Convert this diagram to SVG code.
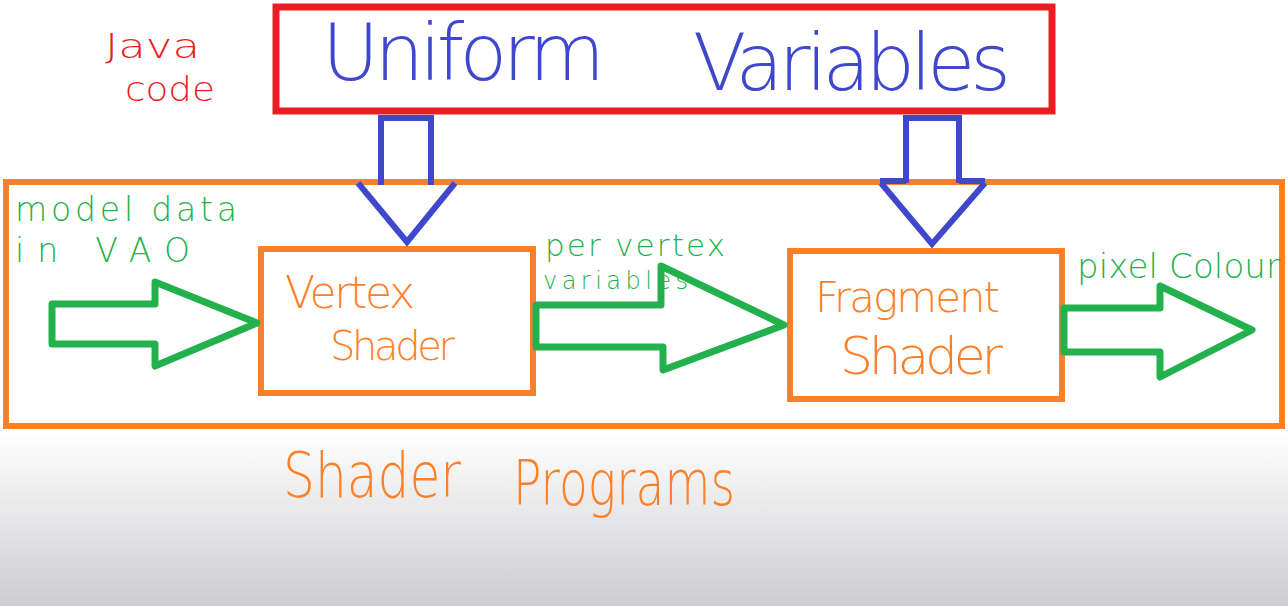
<svg xmlns="http://www.w3.org/2000/svg" width="1288" height="606" viewBox="0 0 1288 606">
<defs>
<linearGradient id="bg" x1="0" y1="0" x2="0" y2="1">
<stop offset="0" stop-color="#ffffff"/>
<stop offset="0.71" stop-color="#ffffff"/>
<stop offset="1" stop-color="#cdcdd1"/>
</linearGradient>
<style>
.box{fill:none;stroke-linejoin:miter}
.red{stroke:#ed1c24;stroke-width:7}
.org{stroke:#ff7f27;stroke-width:6}
.grn{fill:none;stroke:#22b14c;stroke-width:7;stroke-linejoin:round}
.blu{fill:none;stroke:#3f48cc;stroke-width:6;stroke-linejoin:miter}
text{font-family:"DejaVu Sans","Open Sans",sans-serif;font-weight:200}
.tr{fill:#ed1c24}
.tb{fill:#3f48cc}
.to{fill:#ff7f27}
.tg{fill:#22b14c}
</style>
</defs>
<rect x="0" y="0" width="1288" height="606" fill="url(#bg)"/>

<g id="java-label">
<text class="tr" x="105" y="58" font-size="34" textLength="95" lengthAdjust="spacingAndGlyphs">Java</text>
<text class="tr" x="125" y="101" font-size="34" textLength="90" lengthAdjust="spacingAndGlyphs">code</text>
</g>

<g id="uniform-variables">
<rect class="box red" x="276" y="7" width="776" height="104"/>
<text class="tb" x="322" y="80" font-size="78" textLength="283">Uniform</text>
<text class="tb" x="693" y="90" font-size="78" textLength="318">Variables</text>
</g>

<g id="shader-programs">
<rect class="box org" x="6" y="182" width="1276" height="244"/>
<text class="to" x="283" y="497" font-size="62" textLength="178" lengthAdjust="spacingAndGlyphs">Shader</text>
<text class="to" x="513" y="505" font-size="62" textLength="222" lengthAdjust="spacingAndGlyphs">Programs</text>
</g>

<g id="vertex-shader">
<rect class="box org" x="261" y="249" width="272" height="144"/>
<text class="to" x="285" y="308" font-size="44" textLength="130">Vertex</text>
<text class="to" x="330" y="360" font-size="40" textLength="125">Shader</text>
</g>

<g id="fragment-shader">
<rect class="box org" x="790" y="251" width="272" height="148"/>
<text class="to" x="815" y="312" font-size="42" textLength="185">Fragment</text>
<text class="to" x="840" y="374" font-size="52" textLength="163">Shader</text>
</g>

<g id="labels">
<text class="tg" x="15" y="221" font-size="33" textLength="222">model data</text>
<text class="tg" x="15" y="262" font-size="33" textLength="175">in VAO</text>
<text class="tg" x="545" y="256" font-size="31" textLength="180">per vertex</text>
<text class="tg" x="543" y="289" font-size="24" textLength="145">variables</text>
<text class="tg" x="1077" y="278" font-size="34" textLength="203">pixel Colour</text>
</g>

<g id="connectors">
<path class="blu" d="M381 185 V118 H431 V185"/>
<path class="blu" d="M358 183 L407 242 L455 183"/>
<path class="blu" d="M906 183 V118 H959 V183"/>
<path class="blu" d="M880 181 H906 M959 181 H985"/>
<path class="blu" d="M881 183 L932 244 L985 183"/>
<path class="grn" d="M52 304 H155 V282 L257 323 L155 366 V344 H52 Z"/>
<path class="grn" d="M536 305 H661 V266 L784 325 L663 370 V347 H536 Z"/>
<path class="grn" d="M1064 308 H1160 V286 L1252 330 L1160 377 V352 H1064 Z"/>
</g>
</svg>
